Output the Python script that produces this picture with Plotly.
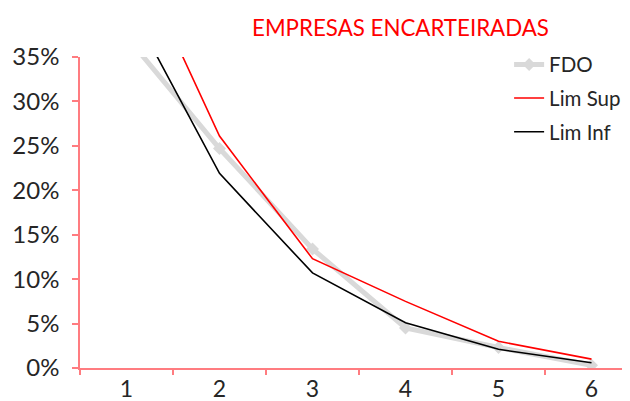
import plotly.graph_objects as go

# --- data ---
CATEGORIES = ["1", "2", "3", "4", "5", "6"]
FDO = [0.373, 0.247, 0.134, 0.045, 0.023, 0.003]
LIM_SUP = [0.487, 0.261, 0.123, 0.075, 0.030, 0.010]
LIM_INF = [0.415, 0.219, 0.107, 0.051, 0.021, 0.006]

FONT = "Lato"
AXIS_RED = "#FF7C80"
TEXT = "#262626"

fig = go.Figure()

# FDO first so the limit lines sit on top of it
fig.add_trace(go.Scatter(
    x=CATEGORIES, y=FDO, name="FDO", mode="lines+markers", legendgroup="a",
    line=dict(color="#D9D9D9", width=5),
    marker=dict(symbol="diamond", size=10, color="#D9D9D9"),
))
fig.add_trace(go.Scatter(
    x=CATEGORIES, y=LIM_SUP, name="Lim Sup", mode="lines", legendgroup="b",
    line=dict(color="#FF0000", width=1.6),
))
fig.add_trace(go.Scatter(
    x=CATEGORIES, y=LIM_INF, name="Lim Inf", mode="lines", legendgroup="c",
    line=dict(color="#000000", width=1.6),
))

# the page body has an 8px margin, so offsets below are shifted by it
fig.update_layout(
    width=630, height=401,
    margin=dict(l=72, r=0, t=49, b=41, autoexpand=False),
    paper_bgcolor="white", plot_bgcolor="white",
    font=dict(family=FONT, size=23, color=TEXT),
    title=dict(
        text="EMPRESAS ENCARTEIRADAS",
        font=dict(family=FONT, size=22.3, color="#FF0000"),
        x=0.623, xanchor="center", y=0.95, yanchor="middle",
    ),
    xaxis=dict(
        type="category",
        range=[-0.5, 5.5],
        showline=True, linecolor=AXIS_RED, linewidth=1.5,
        ticks="outside", ticklen=5, tickcolor=AXIS_RED, tickwidth=1.5,
        tickson="boundaries",
        showgrid=False, zeroline=False,
        tickfont=dict(size=23, color=TEXT),
    ),
    yaxis=dict(
        range=[0, 0.35],
        dtick=0.05, tickformat=".0%",
        showline=True, linecolor=AXIS_RED, linewidth=1.5,
        ticks="outside", ticklen=6, tickcolor=AXIS_RED, tickwidth=1.5,
        ticklabelstandoff=8,
        showgrid=False, zeroline=False,
        tickfont=dict(size=24, color=TEXT),
    ),
    legend=dict(
        x=0.769, xanchor="left", y=1.04, yanchor="top",
        bgcolor="rgba(0,0,0,0)", tracegroupgap=4,
        font=dict(size=20.5, color=TEXT),
    ),
    showlegend=True,
)

fig.write_html("out.html")
